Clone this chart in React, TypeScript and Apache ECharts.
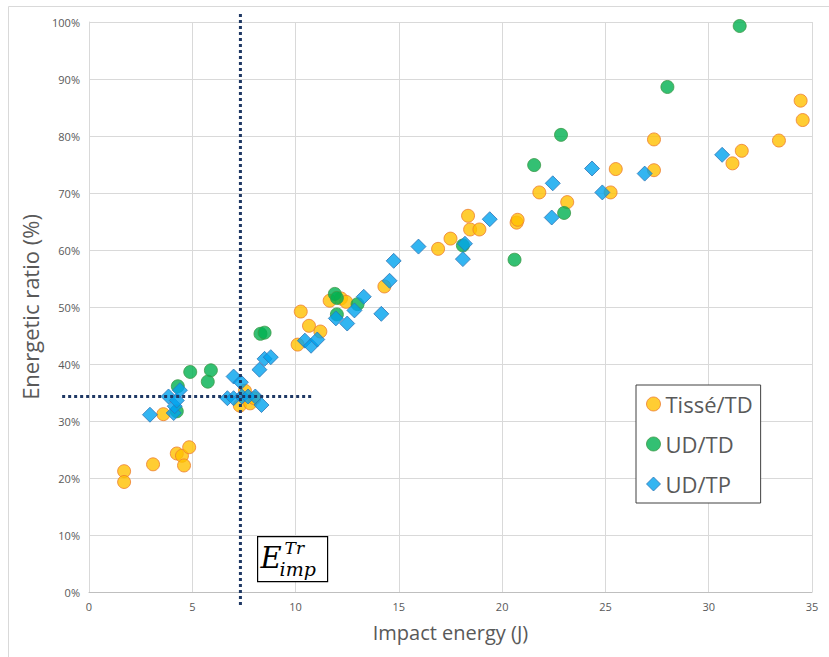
import React, { useEffect, useRef } from "react";
import * as echarts from "echarts";

const xTicks = { min: 0, max: 35, interval: 5 };
const yTicks = { min: 0, max: 100, interval: 10 };

const seriesNames = ["Tissé/TD", "UD/TD", "UD/TP"];

const tisseTD: number[][] = [
  [1.7, 21.2], [1.7, 19.3], [3.1, 22.4], [3.6, 31.2], [4.25, 24.3], [4.5, 23.9], [4.6, 22.2], [4.85, 25.4],
  [7.3, 32.7], [7.55, 35.3], [7.8, 33.1], [8.0, 34.0],
  [10.1, 43.4], [10.25, 49.2], [10.65, 46.7], [11.2, 45.7], [11.65, 51.1], [12.2, 51.5], [12.45, 50.9], [14.3, 53.6],
  [16.9, 60.2], [17.5, 62.0], [18.35, 66.0], [18.45, 63.6], [18.9, 63.6], [20.7, 64.8], [20.75, 65.3], [21.8, 70.1],
  [23.15, 68.4], [25.25, 70.1], [25.5, 74.2], [27.35, 74.0], [27.35, 79.4], [31.15, 75.2], [31.6, 77.4], [33.4, 79.2],
  [34.45, 86.2], [34.55, 82.8],
];

const udTD: number[][] = [
  [4.25, 31.7], [4.3, 36.1], [4.9, 38.6], [5.75, 36.9], [5.9, 38.9], [8.3, 45.3], [8.5, 45.5],
  [11.9, 52.3], [12.0, 51.6], [12.0, 48.7], [13.0, 50.5], [18.1, 60.8], [20.6, 58.3], [21.55, 74.9],
  [22.85, 80.2], [23.0, 66.5], [28.0, 88.6], [31.5, 99.3],
];

const udTP: number[][] = [
  [2.95, 31.1], [3.85, 34.3], [4.1, 31.4], [4.15, 32.6], [4.25, 33.6], [4.4, 35.4],
  [6.7, 34.0], [7.0, 34.0], [7.0, 37.8], [7.35, 36.8], [7.4, 34.3], [7.7, 34.3], [8.05, 34.3], [8.35, 32.8],
  [8.25, 39.0], [8.5, 40.9], [8.8, 41.2],
  [10.45, 44.1], [10.75, 43.2], [11.05, 44.3], [11.95, 48.0], [12.5, 47.1], [12.85, 49.4], [13.3, 51.8],
  [14.15, 48.8], [14.55, 54.6], [14.75, 58.1], [15.95, 60.6], [18.1, 58.4], [18.2, 61.1], [19.4, 65.4],
  [22.4, 65.7], [22.45, 71.7], [24.35, 74.3], [24.85, 70.1], [26.9, 73.4], [30.65, 76.7],
];

// Threshold reference lines (E_imp^Tr)
const verticalRef: number[][] = [[7.33, 101.4], [7.33, -2.6]];
const horizontalRef: number[][] = [[-1.3, 34.3], [10.85, 34.3]];

export default function App() {
  const ref = useRef<HTMLDivElement>(null);

  useEffect(() => {
    if (!ref.current) return;
    const chart = echarts.init(ref.current, undefined, { renderer: "svg" });
    const labelColor = "#595959";
    const gridColor = "#D9D9D9";
    const dottedStyle = {
      stroke: "#1F3864",
      lineWidth: 3,
      lineDash: [3, 3],
      lineCap: "butt",
    };
    chart.setOption({
      animation: false,
      backgroundColor: "#ffffff",
      grid: { left: 89, top: 22, right: 17, bottom: 65, containLabel: false },
      xAxis: {
        type: "value",
        min: xTicks.min,
        max: xTicks.max,
        interval: xTicks.interval,
        name: "Impact energy (J)",
        nameLocation: "middle",
        nameGap: 30,
        nameTextStyle: { color: labelColor, fontSize: 20, fontFamily: "Open Sans" },
        axisLine: { show: true, lineStyle: { color: "#BFBFBF", width: 1 } },
        axisTick: { show: false },
        axisLabel: { color: labelColor, fontSize: 11, fontFamily: "Open Sans", margin: 9 },
        splitLine: { show: true, lineStyle: { color: gridColor, width: 1 } },
      },
      yAxis: {
        type: "value",
        min: yTicks.min,
        max: yTicks.max,
        interval: yTicks.interval,
        name: "Energetic ratio (%)",
        nameLocation: "middle",
        nameGap: 44,
        nameTextStyle: { color: labelColor, fontSize: 22, fontFamily: "Open Sans" },
        axisLine: { show: true, lineStyle: { color: gridColor, width: 1 } },
        axisTick: { show: false },
        axisLabel: { color: labelColor, fontSize: 11, fontFamily: "Open Sans", margin: 9, formatter: "{value}%" },
        splitLine: { show: true, lineStyle: { color: gridColor, width: 1 } },
      },
      legend: {
        data: seriesNames,
        orient: "vertical",
        left: 636,
        top: 385,
        backgroundColor: "#ffffff",
        borderColor: "#404040",
        borderWidth: 1,
        borderRadius: 0,
        padding: [8, 8, 8, 10],
        itemGap: 18,
        itemWidth: 14,
        itemHeight: 14,
        itemStyle: { borderWidth: 1 },
        textStyle: { color: labelColor, fontSize: 22, lineHeight: 22, fontFamily: "Open Sans" },
      },
      series: [
        {
          name: seriesNames[0],
          type: "scatter",
          symbol: "circle",
          symbolSize: 13,
          data: tisseTD,
          itemStyle: { color: "#FFC000", borderColor: "#ED7D31", borderWidth: 1 },
          z: 3,
        },
        {
          name: seriesNames[1],
          type: "scatter",
          symbol: "circle",
          symbolSize: 13,
          data: udTD,
          itemStyle: { color: "#00B050", borderColor: "#3D9A48", borderWidth: 1 },
          z: 4,
        },
        {
          name: seriesNames[2],
          type: "scatter",
          symbol: "diamond",
          symbolSize: 15,
          data: udTP,
          itemStyle: { color: "#00A3EE", borderColor: "#2E75B6", borderWidth: 1 },
          z: 5,
        },
      ],
    });

    // Linear pixel mapping derived from the library's own axis scales (allows values outside the axis range)
    const p00 = chart.convertToPixel({ gridIndex: 0 }, [xTicks.min, yTicks.min]) as number[];
    const p11 = chart.convertToPixel({ gridIndex: 0 }, [xTicks.max, yTicks.max]) as number[];
    const px = (p: number[]) => [
      p00[0] + ((p[0] - xTicks.min) / (xTicks.max - xTicks.min)) * (p11[0] - p00[0]),
      p00[1] + ((p[1] - yTicks.min) / (yTicks.max - yTicks.min)) * (p11[1] - p00[1]),
    ];
    const v0 = px(verticalRef[0]);
    const v1 = px(verticalRef[1]);
    const h0 = px(horizontalRef[0]);
    const h1 = px(horizontalRef[1]);

    chart.setOption({
      graphic: [
        { type: "line", shape: { x1: 8.5, y1: 6.5, x2: 829, y2: 6.5 }, style: { stroke: "#D9D9D9", lineWidth: 1 }, silent: true },
        { type: "line", shape: { x1: 8.5, y1: 6.5, x2: 8.5, y2: 657 }, style: { stroke: "#D9D9D9", lineWidth: 1 }, silent: true },
        { type: "line", z: 50, shape: { x1: v0[0], y1: v0[1], x2: v1[0], y2: v1[1] }, style: dottedStyle, silent: true },
        { type: "line", z: 50, shape: { x1: h0[0], y1: h0[1], x2: h1[0], y2: h1[1] }, style: dottedStyle, silent: true },
        {
          type: "group",
          left: 257,
          top: 536,
          z: 100,
          children: [
            { type: "rect", shape: { x: 0, y: 0, width: 70, height: 45 }, style: { fill: "#ffffff", stroke: "#000000", lineWidth: 1.2 } },
            { type: "text", x: 3, y: 21, style: { text: "E", font: 'italic 29px "DejaVu Serif"', fill: "#000", verticalAlign: "middle", align: "left" } },
            { type: "text", x: 27, y: 11, style: { text: "Tr", font: 'italic 17px "DejaVu Serif"', fill: "#000", verticalAlign: "middle", align: "left" } },
            { type: "text", x: 22, y: 32, style: { text: "imp", font: 'italic 19px "DejaVu Serif"', fill: "#000", verticalAlign: "middle", align: "left" } },
          ],
        },
      ],
    });
    return () => chart.dispose();
  }, []);

  return (
    <div
      ref={ref}
      style={{ position: "fixed", left: 0, top: 0, width: 829, height: 657, background: "#fff" }}
    />
  );
}
